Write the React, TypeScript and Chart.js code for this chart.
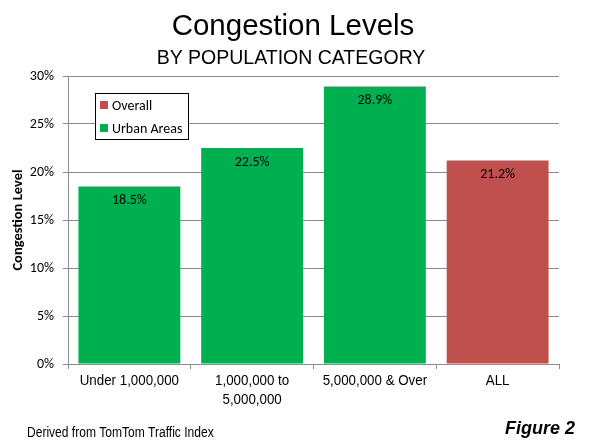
import React, { useEffect, useRef } from "react";
import { Chart, registerables } from "chart.js";

Chart.register(...registerables);

const categories: (string | string[])[] = [
  "Under 1,000,000",
  ["1,000,000 to", "5,000,000"],
  "5,000,000 & Over",
  "ALL",
];
const urbanAreas: (number | null)[] = [18.5, 22.5, 28.9, null];
const overall: (number | null)[] = [null, null, null, 21.2];
const yTicks: number[] = [0, 5, 10, 15, 20, 25, 30];

const GREEN = "#00B050";
const RED = "#C0504D";
const GRID = "#8C8C8C";
const CAL = "Carlito, Calibri, Lato, 'Open Sans', sans-serif";
const ARIAL = "'Liberation Sans', Arial, sans-serif";

function narrowText(ctx: any, text: string, x: number, y: number, align: string, sx: number) {
  ctx.save();
  ctx.translate(x, y);
  ctx.scale(sx, 1);
  ctx.textAlign = align;
  ctx.fillText(text, 0, 0);
  ctx.restore();
}

const decorPlugin = {
  id: "decor",
  afterDatasetsDraw(chart: any) {
    const ctx = chart.ctx;
    ctx.save();
    // data labels
    chart.data.datasets.forEach((ds: any, di: number) => {
      const meta = chart.getDatasetMeta(di);
      meta.data.forEach((bar: any, i: number) => {
        const v = ds.data[i];
        if (v === null || v === undefined) return;
        ctx.fillStyle = "#000";
        ctx.font = `14px ${CAL}`;
        ctx.textAlign = "center";
        ctx.textBaseline = "middle";
        ctx.fillText(v.toFixed(1) + "%", bar.x, bar.y + 14);
      });
    });
    // x category labels (narrow)
    const xs = chart.scales.x;
    ctx.fillStyle = "#000";
    ctx.font = `15.5px ${ARIAL}`;
    ctx.textBaseline = "alphabetic";
    chart.data.labels.forEach((lab: any, i: number) => {
      const px = xs.getPixelForValue(i);
      const lines = Array.isArray(lab) ? lab : [lab];
      lines.forEach((ln: string, k: number) => {
        narrowText(ctx, ln, px, 385 + k * 19, "center", 0.86);
      });
    });
    // legend box
    const lx = 95, ly = 93, lw = 93, lh = 46;
    ctx.fillStyle = "#fff";
    ctx.fillRect(lx, ly, lw, lh);
    ctx.strokeStyle = "#000";
    ctx.lineWidth = 1;
    ctx.strokeRect(lx + 0.5, ly + 0.5, lw, lh);
    const items = [chart.data.datasets[1], chart.data.datasets[0]];
    items.forEach((ds: any, k: number) => {
      const cy = ly + 12 + k * 23;
      ctx.fillStyle = ds.backgroundColor;
      ctx.fillRect(lx + 5, cy - 4, 8, 8);
      ctx.fillStyle = "#000";
      ctx.font = `14px ${CAL}`;
      ctx.textAlign = "left";
      ctx.textBaseline = "middle";
      ctx.fillText(ds.label, lx + 17, cy + 1);
    });
    // titles
    ctx.textAlign = "center";
    ctx.textBaseline = "alphabetic";
    ctx.fillStyle = "#000";
    ctx.font = `29.5px ${ARIAL}`;
    ctx.fillText("Congestion Levels", 293, 35);
    ctx.font = `19.5px ${ARIAL}`;
    ctx.fillText("BY POPULATION CATEGORY", 291, 64);
    // footer
    ctx.font = `14px ${ARIAL}`;
    narrowText(ctx, "Derived from TomTom Traffic Index", 27, 437, "left", 0.86);
    ctx.textAlign = "right";
    ctx.font = `italic bold 18px ${ARIAL}`;
    ctx.fillText("Figure 2", 575, 434);
    ctx.restore();
  },
};

export default function App() {
  const ref = useRef<HTMLCanvasElement | null>(null);
  useEffect(() => {
    if (!ref.current) return;
    const chart = new Chart(ref.current, {
      type: "bar",
      data: {
        labels: categories,
        datasets: [
          {
            label: "Urban Areas",
            data: urbanAreas,
            backgroundColor: GREEN,
            barPercentage: 0.83,
            categoryPercentage: 1,
            skipNull: true,
          } as any,
          {
            label: "Overall",
            data: overall,
            backgroundColor: RED,
            barPercentage: 0.83,
            categoryPercentage: 1,
            skipNull: true,
          } as any,
        ],
      },
      options: {
        responsive: false,
        animation: false,
        layout: { padding: { top: 76, right: 31, left: 0, bottom: 0 } },
        plugins: {
          legend: { display: false },
          tooltip: { enabled: false },
          title: { display: false },
        },
        scales: {
          x: {
            grid: {
              display: true,
              drawOnChartArea: false,
              offset: true,
              tickLength: 5,
              color: GRID,
            },
            border: { color: GRID },
            ticks: { display: false },
            afterFit(scale: any) {
              scale.height = 79;
            },
          },
          y: {
            min: 0,
            max: 30,
            afterBuildTicks(scale: any) {
              scale.ticks = yTicks.map((v) => ({ value: v }));
            },
            grid: { color: GRID, tickLength: 5 },
            border: { color: GRID },
            ticks: {
              color: "#000",
              font: { family: CAL, size: 14 },
              padding: 9,
              callback: (v: any) => v + "%",
            },
            title: {
              display: true,
              text: "Congestion Level",
              color: "#000",
              font: { family: CAL, size: 14.5, weight: "bold" },
              padding: { top: 10, bottom: 0 },
            },
            afterFit(scale: any) {
              scale.width = 68;
            },
          },
        },
      } as any,
      plugins: [decorPlugin],
    });
    return () => chart.destroy();
  }, []);
  return (
    <div style={{ position: "fixed", left: 0, top: 0, width: 590, height: 443, background: "#fff" }}>
      <canvas ref={ref} width={590} height={443} />
    </div>
  );
}
